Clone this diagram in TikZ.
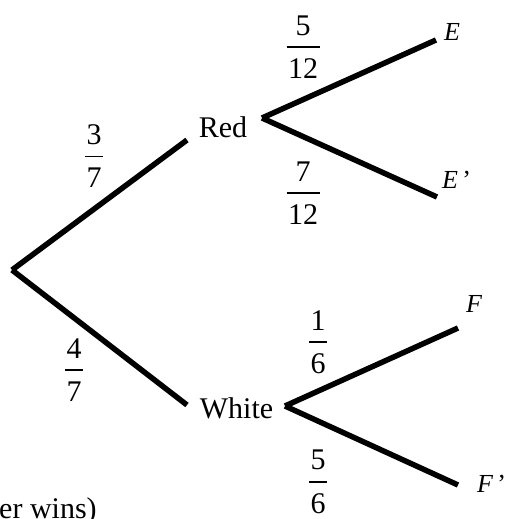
\documentclass[tikz,border=0pt]{standalone}
\usepackage{fontspec}
\setmainfont{Liberation Serif}
\newcommand\myfrac[2]{\vbox{\halign{\hfil##\hfil\cr\kern1.5pt#1\kern1.5pt\cr\noalign{\kern11pt\hrule height1.4pt\kern11pt}\kern1.5pt#2\kern1.5pt\cr}}}
\tikzset{
  branch/.style={line width=5.5pt},
  lab/.style={font=\fontsize{30}{36}\selectfont, inner sep=0pt},
  ev/.style={font=\fontsize{26}{30}\selectfont\itshape, inner sep=0pt, anchor=base west},
}
\begin{document}
\begin{tikzpicture}[x=1pt,y=-1pt]
\useasboundingbox (0,0) rectangle (511,519);
% junction points
\coordinate (root) at (12,270);
\coordinate (toRed) at (187,140);
\coordinate (toWhite) at (187,405);
\coordinate (redJ) at (262,118);
\coordinate (eEnd) at (436,40);
\coordinate (epEnd) at (437,197);
\coordinate (whiteJ) at (285,406);
\coordinate (fEnd) at (458,328);
\coordinate (fpEnd) at (458,485);
% branches
\draw[branch] (root) -- (toRed);
\draw[branch] (root) -- (toWhite);
\draw[branch] (redJ) -- (eEnd);
\draw[branch] (redJ) -- (epEnd);
\draw[branch] (whiteJ) -- (fEnd);
\draw[branch] (whiteJ) -- (fpEnd);
% labels
\node[lab, anchor=base] (red) at (223,137) {Red};
\node[lab, anchor=base] (white) at (236.5,418) {White};
\node[ev] (e) at (444,41) {E};
\node[ev] (ep) at (442,188) {E\,\upshape\symbol{"27}};
\node[ev] (f) at (466,312) {F};
\node[ev] (fp) at (477,492) {F\,\upshape\symbol{"27}};
% probabilities
\node[lab] (p37) at (94,156) {\myfrac{3}{7}};
\node[lab] (p47) at (74,370) {\myfrac{4}{7}};
\node[lab] (p512) at (303,47) {\myfrac{5}{12}};
\node[lab] (p712) at (303,193) {\myfrac{7}{12}};
\node[lab] (p16) at (318,342) {\myfrac{1}{6}};
\node[lab] (p56) at (318,482) {\myfrac{5}{6}};
% cut-off text (cut at the lower edge, as in the reference)
\node[lab, anchor=base west] (note) at (-1,518) {er wins)};
\end{tikzpicture}
\end{document}
